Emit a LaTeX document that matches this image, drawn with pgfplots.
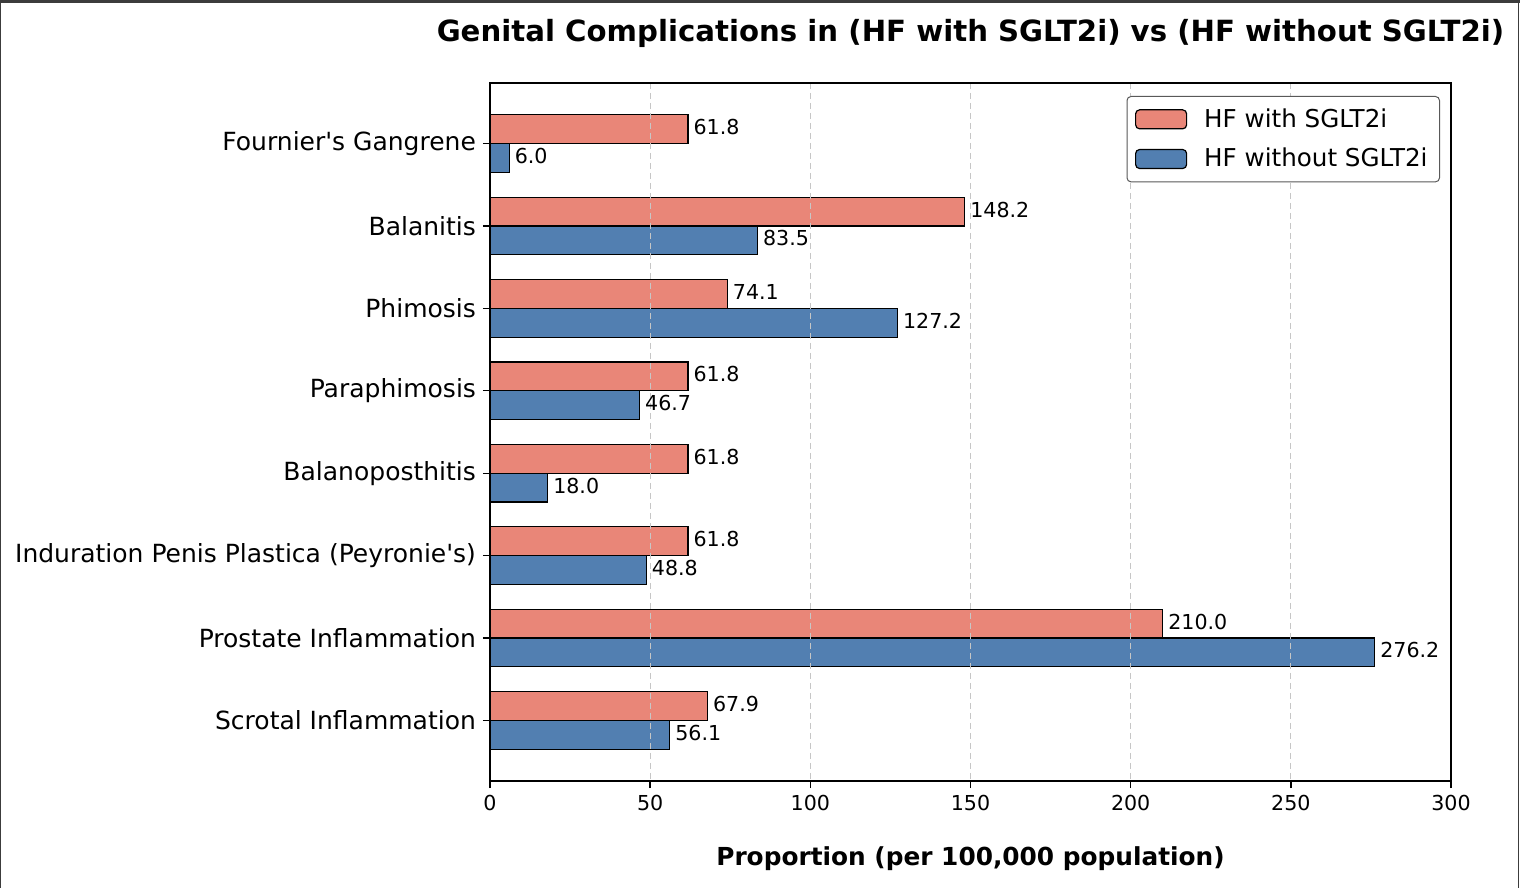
\documentclass[border=0pt]{standalone}
\usepackage{pgfplots}
\pgfplotsset{compat=1.18}
\usepackage{pgfplotstable}
\usepackage{fontspec}
\setmainfont{DejaVu Sans}
\definecolor{withc}{RGB}{233,134,120}
\definecolor{withoutc}{RGB}{82,127,177}
\definecolor{framec}{RGB}{60,60,60}

% rows top to bottom: with SGLT2i, without SGLT2i
\pgfplotstableread{
idx with without
0 61.8 6.0
1 148.2 83.5
2 74.1 127.2
3 61.8 46.7
4 61.8 18.0
5 61.8 48.8
6 210.0 276.2
7 67.9 56.1
}\genital

\begin{document}
\begin{tikzpicture}
\useasboundingbox (0,0) rectangle (760pt,444pt);
\fill[framec] (0,442.5pt) rectangle (760pt,444pt);
\draw[framec, line width=0.5pt] (0.25pt,0) -- (0.25pt,444pt);
\draw[framec, line width=0.5pt] (759.25pt,0) -- (759.25pt,444pt);
\begin{axis}[
    at={(245pt,53.5pt)}, anchor=south west,
    scale only axis,
    width=480.5pt, height=349pt,
    xbar, bar width=0.35,
    xmin=0, xmax=300,
    ymin=-0.735, ymax=7.735,
    y dir=reverse,
    xtick={0,50,...,300},
    ytick={0,...,7},
    yticklabels={Fournier\textquotesingle s Gangrene, Balanitis, Phimosis, Paraphimosis, Balanoposthitis, Induration Penis Plastica (Peyronie\textquotesingle s), Prostate Inflammation, Scrotal Inflammation},
    /pgf/number format/assume math mode=true,
    tick align=outside, major tick length=3.5pt,
    xtick pos=bottom, ytick pos=left,
    axis line style={line width=0.7pt},
    every tick/.style={black, line width=0.7pt},
    xticklabel style={font=\fontsize{10.3}{12}\selectfont},
    yticklabel style={font=\fontsize{12.5}{14}\selectfont},
    xmajorgrids,
    major grid style={dashed, dash pattern=on 3pt off 2pt, gray!45, line width=0.5pt},
    axis on top,
    title={\bfseries Genital Complications in (HF with SGLT2i) vs (HF without SGLT2i)},
    title style={at={(0.5,1)}, anchor=center, yshift=19pt, font=\fontsize{14.6}{17}\selectfont},
    xlabel={\bfseries Proportion (per 100,000 population)},
    xlabel style={at={(0.5,0)}, anchor=center, yshift=-39pt, font=\fontsize{12.4}{14}\selectfont},
    nodes near coords,
    nodes near coords style={font=\fontsize{10.3}{12}\selectfont, anchor=west, inner sep=1pt, xshift=1.5pt, yshift=1pt,
        /pgf/number format/.cd, fixed, fixed zerofill, precision=1},
    legend style={at={(1,1)}, anchor=north east, xshift=-5.5pt, yshift=-6.5pt,
        font=\fontsize{12.3}{14}\selectfont, draw=black!65, rounded corners=2pt,
        line width=0.5pt, row sep=5pt, inner xsep=4pt, inner ysep=4pt},
    legend cell align=left,
    legend image code/.code={\draw[#1, line width=0.6pt] (0pt,-4.75pt) rectangle (25.5pt,4.75pt);},
]
\addplot[fill=withc, draw=black, line width=0.6pt, bar shift=-0.175] table[x=with, y=idx] {\genital};
\addlegendentry{\hspace{6.5pt}HF with SGLT2i}
\addplot[fill=withoutc, draw=black, line width=0.6pt, bar shift=0.175] table[x=without, y=idx] {\genital};
\addlegendentry{\hspace{6.5pt}HF without SGLT2i}
\end{axis}
\end{tikzpicture}
\end{document}
